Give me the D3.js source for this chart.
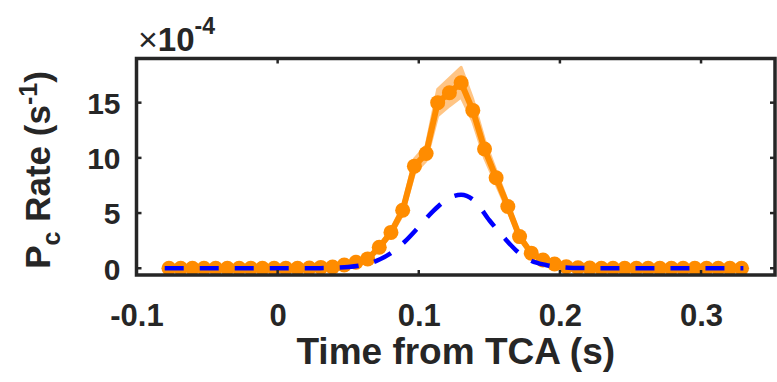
<!DOCTYPE html>
<html><head><meta charset="utf-8">
<script src="https://cdn.jsdelivr.net/npm/d3@7"></script>
<style>
body{margin:0;background:#fff}
svg{display:block}
text{font-family:"Liberation Sans",Arial,Helvetica,sans-serif;font-weight:bold;fill:#262626}
</style>
</head><body><svg id="c" width="777" height="382"></svg>
<script>
// Observed Pc rate (units of 1e-4 s^-1)
const timeObs = [-0.0770,-0.0687,-0.0604,-0.0522,-0.0439,-0.0356,-0.0273,-0.0190,-0.0108,-0.0025,
  0.0058,0.0141,0.0224,0.0306,0.0389,0.0472,0.0555,0.0638,0.0720,0.0803,
  0.0886,0.0969,0.1052,0.1134,0.1217,0.1300,0.1383,0.1466,0.1548,0.1631,
  0.1714,0.1797,0.1880,0.1962,0.2045,0.2128,0.2211,0.2294,0.2376,0.2459,
  0.2542,0.2625,0.2708,0.2790,0.2873,0.2956,0.3039,0.3122,0.3204,0.3287];
const rateObs = [0,0,0,0,0,0,0,0,0,0,
  0,0,0.03,0.08,0.12,0.30,0.55,0.85,1.90,3.25,
  5.25,9.25,10.4,15.0,15.9,16.8,14.3,10.8,8.2,5.6,
  2.87,1.37,0.75,0.38,0.14,0.05,0.02,0,0,0,
  0,0,0,0,0,0,0,0,0,0];
const rateLow = [0,0,0,0,0,0,0,0,0,0,
  0,0,0.02,0.06,0.10,0.26,0.49,0.77,1.74,3.0,
  4.85,8.6,9.75,13.8,14.7,15.5,13.3,10.0,7.6,5.2,
  2.65,1.26,0.68,0.34,0.12,0.04,0.01,0,0,0,
  0,0,0,0,0,0,0,0,0,0];
const rateHigh = [0,0,0,0,0,0,0,0,0,0,
  0,0,0.04,0.10,0.14,0.34,0.61,0.93,2.06,3.5,
  5.65,9.9,11.1,16.2,17.2,18.2,15.3,11.6,8.8,6.0,
  3.1,1.48,0.82,0.42,0.16,0.06,0.03,0,0,0,
  0,0,0,0,0,0,0,0,0,0];
// Model Pc rate (dashed)
const timeModel = [-0.08,-0.07,-0.06,-0.05,-0.04,-0.03,-0.02,-0.01,0,0.01,
  0.02,0.03,0.04,0.05,0.06,0.07,0.08,0.09,0.10,0.11,
  0.12,0.13,0.14,0.15,0.16,0.17,0.18,0.19,0.20,0.21,
  0.22,0.23,0.24,0.25,0.26,0.27,0.28,0.29,0.30,0.31,
  0.32,0.33];
const rateModel = [0,0,0,0,0,0,0,0,0,0,
  0,0.01,0.04,0.11,0.29,0.67,1.35,2.40,3.75,5.15,
  6.24,6.65,6.05,4.35,2.84,1.50,0.65,0.30,0.10,0.03,
  0.01,0,0,0,0,0,0,0,0,0,
  0,0];
const xTicks = [-0.1,0,0.1,0.2,0.3];
const xTickLabels = ["-0.1","0","0.1","0.2","0.3"];
const yTicks = [0,5,10,15];
const yTickLabels = ["0","5","10","15"];
const xDomain = [-0.1,0.3524];
const yDomain = [-0.61,19.0];

const svg = d3.select("#c");
const L=136.5, R=775, T=58.5, B=275;
const x = d3.scaleLinear().domain(xDomain).range([L,R]);
const y = d3.scaleLinear().domain(yDomain).range([B,T]);
const ink = "#262626";

// band
svg.append("path")
  .datum(timeObs.map((t,i)=>({t,lo:rateLow[i],hi:rateHigh[i]})))
  .attr("d", d3.area().x(d=>x(d.t)).y0(d=>y(d.lo)).y1(d=>y(d.hi)))
  .attr("fill","#ffc585").attr("stroke","#ffc585").attr("stroke-width",3).attr("stroke-linejoin","round");

// observed line
svg.append("path")
  .datum(timeObs.map((t,i)=>({t,v:rateObs[i]})))
  .attr("d", d3.line().x(d=>x(d.t)).y(d=>y(d.v)))
  .attr("fill","none").attr("stroke","#ff8c00").attr("stroke-width",6).attr("stroke-linejoin","round");

svg.append("g").selectAll("circle")
  .data(timeObs.map((t,i)=>({t,v:rateObs[i]})))
  .join("circle")
  .attr("cx",d=>x(d.t)).attr("cy",d=>y(d.v)).attr("r",7.5)
  .attr("fill","#ff8c00");

// model dashed
svg.append("path")
  .datum(timeModel.map((t,i)=>({t,v:rateModel[i]})))
  .attr("d", d3.line().curve(d3.curveMonotoneX).x(d=>x(d.t)).y(d=>y(d.v)))
  .attr("fill","none").attr("stroke","#0000ff").attr("stroke-width",4.5)
  .attr("stroke-dasharray","19,16");

// box
svg.append("rect").attr("x",L).attr("y",T).attr("width",R-L).attr("height",B-T)
  .attr("fill","none").attr("stroke",ink).attr("stroke-width",3.5);

// ticks (inward, all four sides)
const tl = 5;
const tg = svg.append("g").attr("stroke",ink).attr("stroke-width",2.5);
xTicks.forEach(v=>{
  if (v<=xDomain[0]) return;
  tg.append("line").attr("x1",x(v)).attr("x2",x(v)).attr("y1",B).attr("y2",B-tl);
  tg.append("line").attr("x1",x(v)).attr("x2",x(v)).attr("y1",T).attr("y2",T+tl);
});
yTicks.forEach(v=>{
  tg.append("line").attr("x1",L).attr("x2",L+tl).attr("y1",y(v)).attr("y2",y(v));
  tg.append("line").attr("x1",R).attr("x2",R-tl).attr("y1",y(v)).attr("y2",y(v));
});

// tick labels via axes
const xAxis = d3.axisBottom(x).tickValues(xTicks).tickFormat((d,i)=>xTickLabels[i]).tickSize(0).tickPadding(0);
const gx = svg.append("g").attr("transform",`translate(0,${B})`).call(xAxis);
gx.select(".domain").remove();
gx.selectAll("text").attr("y",51).attr("dy",0).attr("font-size",31).attr("font-family",null).attr("fill",ink);

const yAxis = d3.axisLeft(y).tickValues(yTicks).tickFormat((d,i)=>yTickLabels[i]).tickSize(0).tickPadding(0);
const gy = svg.append("g").attr("transform",`translate(${L-16},0)`).call(yAxis);
gy.select(".domain").remove();
gy.selectAll("text").attr("x",0).attr("dy","0.36em").attr("font-size",30).attr("font-family",null).attr("fill",ink);

// exponent
const ex = svg.append("text").attr("x",138).attr("y",51).attr("font-size",33);
ex.append("tspan").text("\u00d7").attr("font-weight","normal").attr("font-size",34);
ex.append("tspan").text("10").attr("font-weight","bold");
ex.append("tspan").text("-4").attr("font-size",23).attr("dy",-17);

// x label
svg.append("text").attr("x",(L+R)/2).attr("y",364).attr("text-anchor","middle")
  .attr("font-size",37).text("Time from TCA (s)");

// y label
const yl = svg.append("text").attr("transform","translate(50,170) rotate(-90)")
  .attr("text-anchor","middle").attr("font-size",35);
yl.append("tspan").text("P");
yl.append("tspan").text("c").attr("font-size",25).attr("dy",10);
yl.append("tspan").text(" Rate (s").attr("dy",-10);
yl.append("tspan").text("-1").attr("font-size",25).attr("dy",-13);
yl.append("tspan").text(")").attr("dy",13);
</script>
</body></html>
